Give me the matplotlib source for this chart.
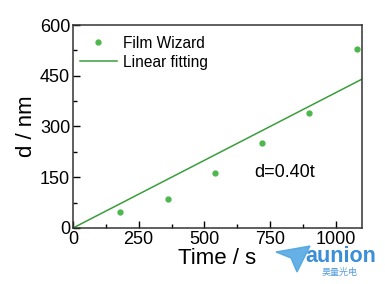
import numpy as np
import matplotlib
matplotlib.use('Agg')
import matplotlib.pyplot as plt
from matplotlib.ticker import MultipleLocator

#%% Data
time_s = [180, 360, 540, 720, 900, 1080]
thickness_nm = [48, 85, 163, 250, 339, 529]
slope = 0.40
fit_x = [0, 1100]

#%% Figure
plt.rcParams['font.family'] = ['Liberation Sans', 'Noto Sans CJK SC', 'DejaVu Sans']
fig = plt.figure(figsize=(3.85, 2.84), dpi=100)
ax = fig.add_axes([73/385, 1 - 228/284, (362 - 73)/385, (228 - 25)/284])

ax.plot(time_s, thickness_nm, 'o', color='#4cb84c', markersize=3.5,
        label='Film Wizard', linestyle='none')
ax.plot(fit_x, [slope*x for x in fit_x], '-', color='#3a9e3a', lw=1.1,
        label='Linear fitting')

ax.set_xlim(0, 1100)
ax.set_ylim(0, 600)
ax.xaxis.set_major_locator(MultipleLocator(250))
ax.xaxis.set_minor_locator(MultipleLocator(125))
ax.yaxis.set_major_locator(MultipleLocator(150))
ax.yaxis.set_minor_locator(MultipleLocator(75))
ax.tick_params(which='both', direction='in', labelsize=13, width=1)
ax.tick_params(which='major', length=5, pad=2)
ax.tick_params(which='minor', length=3)
for s in ax.spines.values():
    s.set_linewidth(1.1)
    s.set_color('#333333')

ax.set_xlabel('Time / s', fontsize=16, labelpad=0)
ax.set_ylabel('d / nm', fontsize=16, labelpad=2)

ax.text(690, 163, 'd=0.40t', fontsize=13, va='center', ha='left')

leg = ax.legend(loc='upper left', frameon=False, fontsize=11.2,
                handlelength=2.4, handletextpad=0.4, borderaxespad=0.3,
                labelspacing=0.25, bbox_to_anchor=(-0.015, 1.0))

# watermark
fig.text(341/385, 1 - 256/284, 'aunion', color='#3a8fd8', fontsize=15.5,
         fontweight='bold', ha='center', va='center')
fig.text(340/385, 1 - 272/284, '昊量光电', color='#5a9fdc', fontsize=6.5,
         ha='center', va='center')
logo = plt.Polygon([[276/385, 1 - 252/284], [310/385, 1 - 246/284],
                    [297/385, 1 - 272/284], [291/385, 1 - 258/284]],
                   closed=True, transform=fig.transFigure,
                   color='#4aa3e0', alpha=0.85)
fig.patches.append(logo)

fig.savefig('out.png', dpi=100)
